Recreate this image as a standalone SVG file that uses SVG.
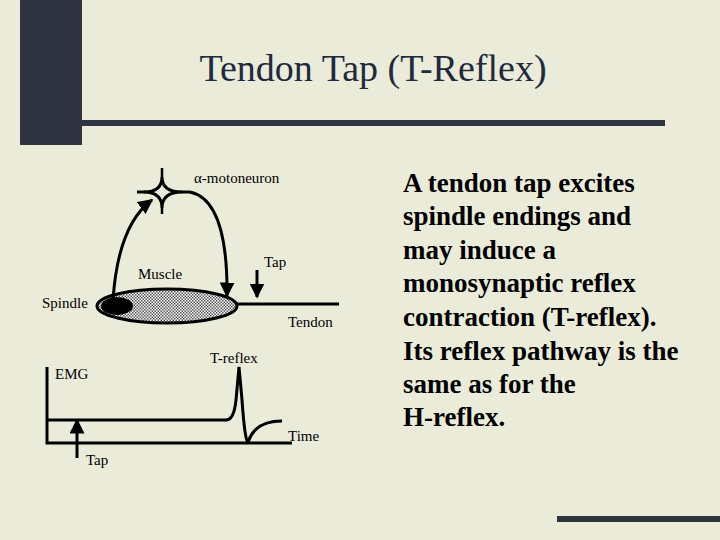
<svg xmlns="http://www.w3.org/2000/svg" width="720" height="540" viewBox="0 0 720 540">
<defs>
<pattern id="dots" width="3" height="3" patternUnits="userSpaceOnUse"><rect width="3" height="3" fill="#ffffff"/><rect width="1.5" height="1.5" fill="#555"/><rect x="1.5" y="1.5" width="1.5" height="1.5" fill="#555"/></pattern>
<marker id="ah" viewBox="0 0 10 10" refX="9" refY="5" markerWidth="5" markerHeight="5" orient="auto"><path d="M0,0 L10,5 L0,10 z" fill="#000"/></marker>
</defs>
<style>
.s{font-family:"Liberation Serif",serif;font-size:15px;fill:#000}
.l{fill:none;stroke:#000;stroke-width:3}
.b{font-family:"Liberation Serif",serif;font-size:27px;font-weight:bold;fill:#000}
</style>
<rect width="720" height="540" fill="#ebebd9"/>
<rect x="20" y="0" width="62" height="145" fill="#2f3440"/>
<rect x="20" y="120" width="645" height="6" fill="#2f3440"/>
<rect x="557" y="516" width="163" height="6" fill="#2f3440"/>
<text x="373" y="81" text-anchor="middle" font-family="Liberation Serif, serif" font-size="38" fill="#1e2a3e">Tendon Tap (T-Reflex)</text>
<g id="muscle"><ellipse cx="167" cy="306" rx="70" ry="17" fill="url(#dots)" stroke="#000" stroke-width="3"/></g>
<g id="spindle"><ellipse cx="117" cy="306" rx="16" ry="9" fill="#000"/></g>
<g id="tendon"><line x1="237" y1="304" x2="339" y2="304" stroke="#000" stroke-width="3"/></g>
<g id="neuron"><path d="M162,177 Q162,192 144,192 Q162,192 162,208 Q162,192 182,192 Q162,192 162,177 Z" class="l" stroke-width="2.5"/><line x1="137" y1="192" x2="145" y2="192" class="l"/><line x1="181" y1="192" x2="190" y2="192" class="l"/><line x1="162" y1="168" x2="162" y2="178" stroke="#000" stroke-width="2.5"/><line x1="162" y1="207" x2="162" y2="214" stroke="#000" stroke-width="2.5"/></g>
<g id="connectors">
<path d="M113,300 Q118,225 152,200" class="l" stroke-width="2.5" marker-end="url(#ah)"/>
<path d="M190,192 Q228,200 227,296" class="l" stroke-width="2.5" marker-end="url(#ah)"/>
<line x1="257" y1="270" x2="257" y2="297" class="l" stroke-width="2" marker-end="url(#ah)"/>
<line x1="77" y1="458" x2="77" y2="420" class="l" stroke-width="2" marker-end="url(#ah)"/>
</g>
<g id="graph">
<polyline points="47,367 47,443 292,443" class="l"/>
<path d="M47,420 L226,420 Q234,420 236,400 L239,367 L242,400 Q245,442 248,442 Q255,421 282,421" class="l" stroke-width="2.5"/>
</g>
<text class="s" x="194" y="183">α-motoneuron</text>
<text class="s" x="138" y="279">Muscle</text>
<text class="s" x="264" y="267">Tap</text>
<text class="s" x="42" y="308">Spindle</text>
<text class="s" x="288" y="327">Tendon</text>
<text class="s" x="210" y="363">T-reflex</text>
<text class="s" x="55" y="379">EMG</text>
<text class="s" x="288" y="441">Time</text>
<text class="s" x="86" y="465">Tap</text>
<g>
<text class="b" x="403" y="192">A tendon tap excites</text>
<text class="b" x="403" y="225">spindle endings and</text>
<text class="b" x="403" y="259">may induce a</text>
<text class="b" x="403" y="292">monosynaptic reflex</text>
<text class="b" x="403" y="326">contraction (T-reflex).</text>
<text class="b" x="403" y="360">Its reflex pathway is the</text>
<text class="b" x="403" y="393">same as for the</text>
<text class="b" x="403" y="426">H-reflex.</text>
</g>
</svg>
